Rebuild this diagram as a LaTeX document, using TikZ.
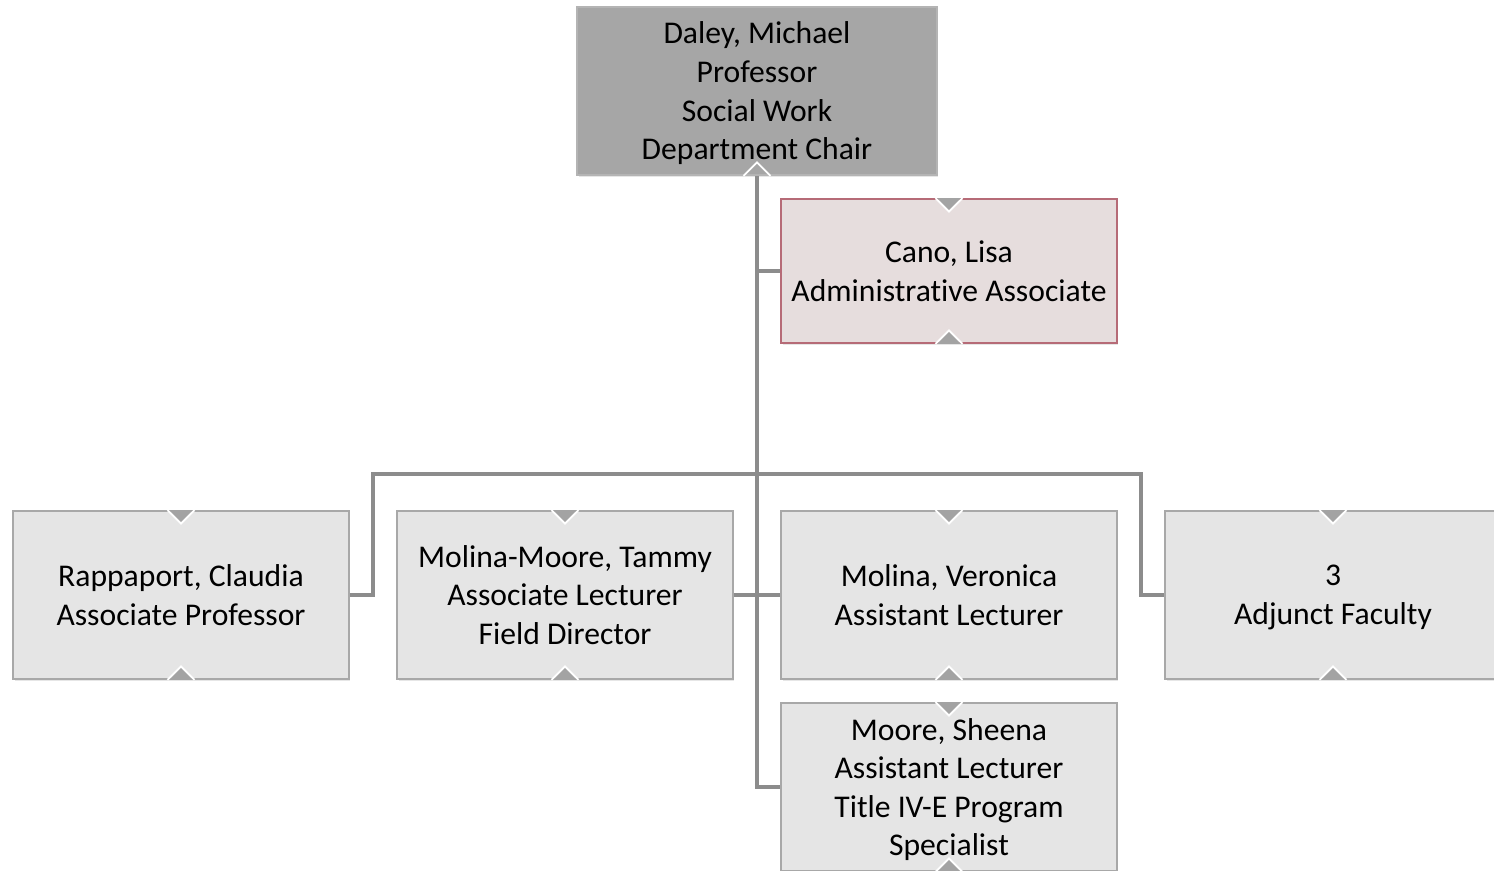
\documentclass[tikz,border=0pt]{standalone}
\usepackage{fontspec}
\setmainfont{Carlito}[Ligatures={NoCommon,NoContextual},Contextuals=NoAlternate]
\usetikzlibrary{shadows}
\definecolor{chairfill}{HTML}{A6A6A6}
\definecolor{chairline}{HTML}{B4B4B4}
\definecolor{boxfill}{HTML}{E5E5E5}
\definecolor{boxline}{HTML}{A8A8A8}
\definecolor{adminfill}{HTML}{E6DDDD}
\definecolor{adminline}{HTML}{B66B77}
\definecolor{linkgray}{HTML}{8C8C8C}
\definecolor{tabgray}{HTML}{A3A3A3}
\tikzset{
  box/.style={draw=boxline,fill=boxfill,line width=1pt,minimum width=6.72cm,minimum height=3.36cm,
    align=center,inner sep=0pt,text depth=0pt,font=\fontsize{18}{22}\selectfont,
    drop shadow={shadow xshift=0.03cm,shadow yshift=-0.05cm,opacity=0.2}},
  chair/.style={box,fill=chairfill,draw=chairline,minimum width=7.2cm},
  admin/.style={box,fill=adminfill,draw=adminline,minimum height=2.88cm},
  link/.style={draw=linkgray,line width=2.2pt},
  tab/.style={fill=tabgray},
  tabedge/.style={draw=white,line width=1pt}
}
\newcommand{\toptab}[1]{
  \fill[tab]([xshift=-.24cm]#1.north)--([yshift=-.24cm]#1.north)--([xshift=.24cm]#1.north)--cycle;
  \draw[tabedge]([xshift=-.27cm]#1.north)--([yshift=-.27cm]#1.north)--([xshift=.27cm]#1.north);}
\newcommand{\bottab}[1]{
  \fill[tab]([xshift=-.24cm]#1.south)--([yshift=.24cm]#1.south)--([xshift=.24cm]#1.south)--cycle;
  \draw[tabedge]([xshift=-.27cm]#1.south)--([yshift=.27cm]#1.south)--([xshift=.27cm]#1.south);}
\begin{document}
\begin{tikzpicture}[x=0.02cm,y=-0.02cm]
            \clip(0,0)rectangle(1494,871);
            \node[chair](daley)at(757,91){Daley, Michael\\Professor\\Social Work\\Department Chair};
            \node[admin](cano)at(949,271){Cano, Lisa\\Administrative Associate};
            \node[box](rapp)at(181,595){Rappaport, Claudia\\Associate Professor};
            \node[box](mm)at(565,595){Molina-Moore, Tammy\\Associate Lecturer\\Field Director};
            \node[box](mv)at(949,595){Molina, Veronica\\Assistant Lecturer};
            \node[box](adj)at(1333,595){3\\Adjunct Faculty};
            \node[box](moore)at(949,787){Moore, Sheena\\Assistant Lecturer\\Title IV-E Program\\Specialist};
            \coordinate(bl)at(373,474);
            \coordinate(br)at(1141,474);
            \draw[link](daley.south)|-(moore.west);
            \draw[link](daley.south|-cano.west)--(cano.west);
            \draw[link](rapp.east)-|(bl)--(br)|-(adj.west);
            \draw[link](mm.east)--(mv.west);
            \draw[tabedge]([xshift=-.27cm]daley.south)--([yshift=.27cm]daley.south)--([xshift=.27cm]daley.south);
            \foreach \n in {cano,rapp,mm,mv,adj,moore}{\toptab{\n}\bottab{\n}}
        \end{tikzpicture}
\end{document}
